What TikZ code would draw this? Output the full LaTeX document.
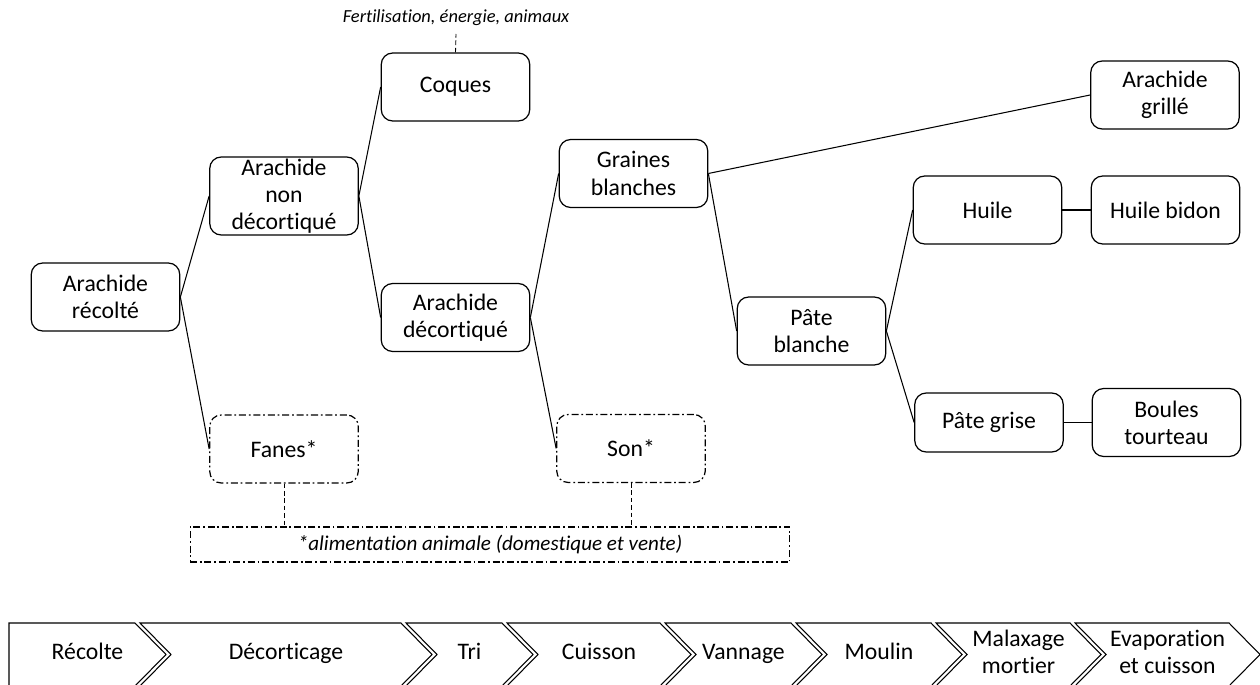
\documentclass[tikz,border=0pt]{standalone}
\usepackage{fontspec}
\setmainfont[Ligatures=NoCommon]{Carlito}
\begin{document}
\begin{tikzpicture}[x=0.02cm,y=-0.02cm,
  box/.style={draw, rounded corners=6.5pt, line width=0.7pt, align=center,
    inner sep=0pt, minimum width=2.97cm, minimum height=1.36cm,
    font=\fontsize{13.5}{15.5}\selectfont},
  dashdotbox/.style={box, dash pattern=on 4pt off 1.6pt on 1pt off 1.6pt},
  link/.style={draw, line width=0.6pt},
  dashlink/.style={draw, line width=0.5pt, dash pattern=on 2.6pt off 1.6pt},
  note/.style={font=\fontsize{10.5}{12}\selectfont\itshape, inner sep=0pt},
  stage/.style={draw, line width=0.6pt, fill=white, line join=miter},
  stagelabel/.style={align=center, inner sep=0pt, font=\fontsize{13.5}{15.5}\selectfont}]
\useasboundingbox (0,0) rectangle (1260,685);

% product tree
\node[box] (recolte) at (105.5,297) {Arachide\\récolté};
\node[box, minimum height=1.56cm] (nondec) at (284,196) {Arachide\\non\\décortiqué};
\node[box] (coques) at (455.5,87) {Coques};
\node[box] (dec) at (455.5,317.5) {Arachide\\décortiqué};
\node[dashdotbox] (fanes) at (284,449) {Fanes*};
\node[box] (graines) at (633.5,173.5) {Graines\\blanches};
\node[dashdotbox] (son) at (631,448.5) {Son*};
\node[box] (pateb) at (811.5,331) {Pâte\\blanche};
\node[box] (grille) at (1165,95) {Arachide\\grillé};
\node[box] (huile) at (987.5,210) {Huile};
\node[box] (bidon) at (1165.5,210) {Huile bidon};
\node[box, minimum height=1.18cm] (grise) at (989,422.5) {Pâte grise};
\node[box] (boules) at (1166.5,422.5) {Boules\\tourteau};

% destination notes
\node[note] (fert) at (456,18) {Fertilisation, énergie, animaux};
\coordinate (fertend) at (456,34);
\node[draw, line width=0.6pt, dash pattern=on 4pt off 1.6pt on 1pt off 1.6pt,
  minimum width=12cm, minimum height=0.7cm, inner sep=0pt,
  font=\fontsize{12}{14}\selectfont\itshape] (alim) at (490,544.5)
  {*alimentation animale (domestique et vente)};

% connectors
\draw[link] (recolte.east) -- (nondec.west);
\draw[link] (recolte.east) -- (fanes.west);
\draw[link] (nondec.east) -- (coques.west);
\draw[link] (nondec.east) -- (dec.west);
\draw[link] (dec.east) -- (graines.west);
\draw[link] (dec.east) -- (son.west);
\draw[link] (graines.east) -- (grille.west);
\draw[link] (graines.east) -- (pateb.west);
\draw[link] (pateb.east) -- (huile.west);
\draw[link] (pateb.east) -- (grise.west);
\draw[link] (huile.east) -- (bidon.west);
\draw[link] (grise.east) -- (boules.west);
\draw[dashlink] (coques.north) -- (fertend);
\draw[dashlink] (fanes.south) -- (fanes.south |- alim.north);
\draw[dashlink] (son.south) -- (son.south |- alim.north);

% process chevrons
\def\ctop{623}\def\cmid{654.5}\def\cbot{686}\def\cdx{31}
\draw[stage] (9,\ctop) -- (135,\ctop) -- (135+\cdx,\cmid) -- (135,\cbot) -- (9,\cbot) -- cycle;
\node[stagelabel] (st1) at (87.5,\cmid) {\strut Récolte};
\foreach \l/\r/\lab [count=\i from 2] in {140/401/{\strut Décorticage}, 406/502/{\strut Tri},
    507/660/{\strut Cuisson}, 665/791/{\strut Vannage}, 796/931/{\strut Moulin},
    936/1070/{\strut Malaxage\\\strut mortier}, 1075/1229/{\strut Evaporation\\\strut et cuisson}} {
  \draw[stage] (\l,\ctop) -- (\r,\ctop) -- (\r+\cdx,\cmid) -- (\r,\cbot)
    -- (\l,\cbot) -- (\l+\cdx,\cmid) -- cycle;
  \node[stagelabel] (st\i) at ({(\l+\r+\cdx)/2},\cmid) {\lab};
}
\end{tikzpicture}
\end{document}
